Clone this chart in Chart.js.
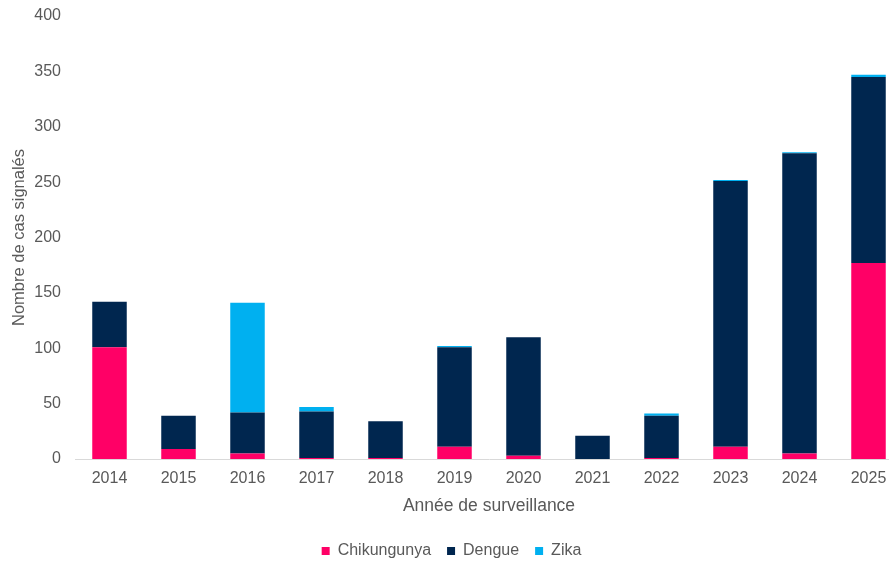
<!DOCTYPE html>
<html>
<head>
<meta charset="utf-8">
<script src="https://cdn.jsdelivr.net/npm/chart.js@4"></script>
<style>
  html, body { margin: 0; padding: 0; background: #fff; overflow: hidden; }
  #wrap { width: 903px; height: 563px; }
</style>
</head>
<body>
<div id="wrap"><canvas id="chart" width="903" height="563"></canvas></div>
<script>
// Cas signalés par année et par arbovirose
const years = ['2014', '2015', '2016', '2017', '2018', '2019', '2020', '2021', '2022', '2023', '2024', '2025'];
const chikungunya = [101, 9, 5, 1, 1, 11, 3, 0, 1, 11, 5, 177];
const dengue = [41, 30, 37, 42, 33, 90, 107, 21, 38, 240, 271, 168];
const zika = [0, 0, 99, 4, 0, 1, 0, 0, 2, 1, 1, 2];
const yTicks = [0, 50, 100, 150, 200, 250, 300, 350, 400];

const textColor = '#595959';
const fontFamily = '"Liberation Sans", Arial, sans-serif';

new Chart(document.getElementById('chart'), {
    type: 'bar',
    data: {
        labels: years,
        datasets: [
            { label: 'Chikungunya', data: chikungunya, backgroundColor: '#FF0066' },
            { label: 'Dengue', data: dengue, backgroundColor: '#00264F' },
            { label: 'Zika', data: zika, backgroundColor: '#00B0F0' }
        ]
    },
    options: {
        responsive: false,
        animation: false,
        layout: { padding: { top: 16, left: 0, right: 0, bottom: -6 } },
        datasets: { bar: { categoryPercentage: 0.5, barPercentage: 1.0, borderWidth: 0 } },
        plugins: {
            tooltip: { enabled: false },
            legend: {
                position: 'bottom',
                labels: {
                    color: textColor,
                    font: { family: fontFamily, size: 16 },
                    boxWidth: 8,
                    boxHeight: 8,
                    padding: 16
                }
            }
        },
        scales: {
            x: {
                stacked: true,
                afterFit: (axis) => { axis.height = 68; },
                grid: { display: false, drawTicks: false },
                border: { color: '#D9D9D9', width: 1 },
                ticks: { color: textColor, font: { family: fontFamily, size: 16 }, padding: 10 },
                title: {
                    display: true,
                    text: 'Année de surveillance',
                    color: textColor,
                    font: { family: fontFamily, size: 17.5 },
                    padding: { top: 0, bottom: 10 }
                }
            },
            y: {
                stacked: true,
                min: 0,
                max: 400,
                afterBuildTicks: (axis) => { axis.ticks = yTicks.map(v => ({ value: v })); },
                afterFit: (axis) => {
                    axis.width = 75;
                    axis.paddingTop = 0;
                },
                grid: { display: false, drawTicks: false },
                border: { display: false },
                ticks: { color: textColor, font: { family: fontFamily, size: 16 }, padding: 14 },
                title: {
                    display: true,
                    text: 'Nombre de cas signalés',
                    color: textColor,
                    font: { family: fontFamily, size: 16.5 },
                    padding: { top: 10, bottom: 0 }
                }
            }
        }
    }
});
</script>
</body>
</html>
